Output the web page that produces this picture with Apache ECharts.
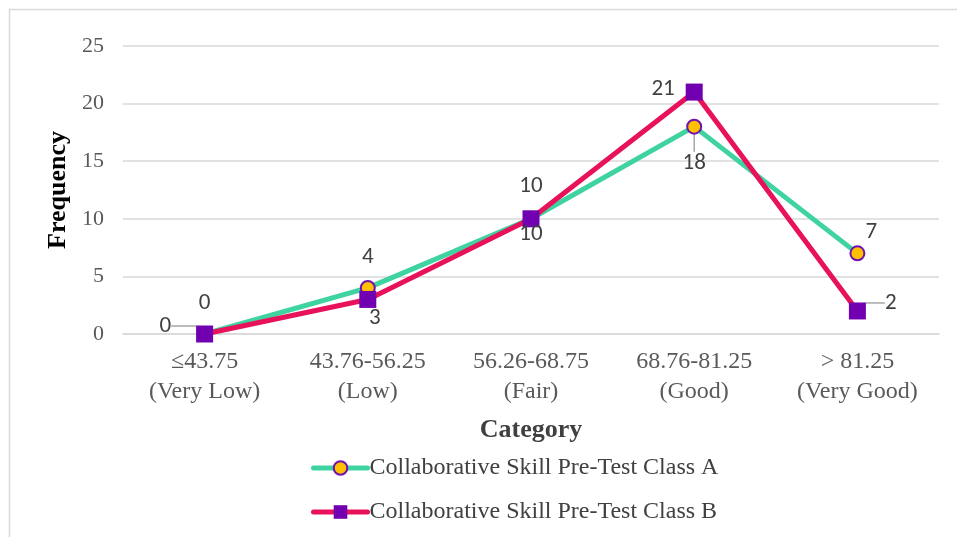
<!DOCTYPE html>
<html>
<head>
<meta charset="utf-8">
<style>
  html, body { margin: 0; padding: 0; background: #fff; }
  #chart { width: 957px; height: 537px; }
</style>
<script src="https://cdn.jsdelivr.net/npm/echarts@6/dist/echarts.min.js"></script>
</head>
<body>
<div id="chart"></div>
<script>
// Score categories and frequencies for the two classes
const categories = [
  '≤43.75\n(Very Low)',
  '43.76-56.25\n(Low)',
  '56.26-68.75\n(Fair)',
  '68.76-81.25\n(Good)',
  '> 81.25\n(Very Good)'
];
const classA = [0, 4, 10, 18, 7];
const classB = [0, 3, 10, 21, 2];
const seriesNames = [
  'Collaborative Skill Pre-Test Class A',
  'Collaborative Skill Pre-Test Class B'
];

// Label placement per point: [position, dx, dy, showLeader]
const labelPlaceA = [
  ['top', 0, -6, false],
  ['top', 0, -6, false],
  ['top', 0, -8, false],
  ['bottom', 0, 12, true],
  ['top', 14, 3, false]
];
const labelPlaceB = [
  ['left', -20, -8, true],
  ['bottom', 7, -6, false],
  ['bottom', 0, -10, false],
  ['left', -6, -3, false],
  ['right', 14, -8, true]
];

const serif = '"Liberation Serif", "Times New Roman", serif';
const sans = 'Carlito, Lato, "Noto Sans", sans-serif';
const leaderStyle = { color: '#a6a6a6', width: 1.5 };

function buildData(values, places) {
  return values.map((v, i) => ({
    value: v,
    label: { position: places[i][0] },
    labelLine: { show: places[i][3], lineStyle: leaderStyle }
  }));
}

const chart = echarts.init(document.getElementById('chart'), null, { renderer: 'canvas' });

const labelStyle = { show: true, fontFamily: sans, fontSize: 23, color: '#404040' };

chart.setOption({
  animation: false,
  backgroundColor: '#fff',
  graphic: [{
    type: 'rect',
    shape: { x: 9.5, y: 9.5, width: 1000, height: 1000 },
    style: { fill: 'none', stroke: '#d9d9d9', lineWidth: 1.5 },
    silent: true
  }],
  grid: { left: 123, right: 18, top: 46, bottom: 203 },
  legend: {
    orient: 'vertical',
    left: 306,
    top: 451,
    itemWidth: 54,
    itemHeight: 17,
    itemGap: 20,
    lineStyle: { width: 5, cap: 'round' },
    textStyle: { fontFamily: serif, fontSize: 24, color: '#404040', padding: [0, 0, 0, -3] },
    data: seriesNames
  },
  xAxis: {
    type: 'category',
    data: categories,
    boundaryGap: true,
    name: 'Category',
    nameLocation: 'middle',
    nameGap: 83,
    nameTextStyle: { fontFamily: serif, fontSize: 26, fontWeight: 'bold', color: '#404040' },
    axisLine: { show: true, lineStyle: { color: '#d9d9d9', width: 1.5 } },
    axisTick: { show: false },
    axisLabel: {
      fontFamily: serif, fontSize: 24, color: '#595959',
      lineHeight: 30, margin: 13, interval: 0
    }
  },
  yAxis: {
    type: 'value',
    min: 0, max: 25, interval: 5,
    name: 'Frequency',
    nameLocation: 'middle',
    nameGap: 47,
    nameRotate: 90,
    nameTextStyle: { fontFamily: serif, fontSize: 26, fontWeight: 'bold', color: '#000' },
    axisLine: { show: false },
    axisTick: { show: false },
    axisLabel: { fontFamily: serif, fontSize: 22, color: '#595959', margin: 19 },
    splitLine: { lineStyle: { color: '#d9d9d9', width: 1.5 } }
  },
  series: [
    {
      name: seriesNames[0],
      type: 'line',
      data: buildData(classA, labelPlaceA),
      lineStyle: { color: '#3fd3a0', width: 5 },
      itemStyle: { color: '#ffc000', borderColor: '#7010b0', borderWidth: 2 },
      symbol: 'circle',
      symbolSize: 14,
      z: 2,
      label: labelStyle,
      labelLine: { show: false, lineStyle: leaderStyle },
      labelLayout: function (p) {
        const s = labelPlaceA[p.dataIndex];
        return { dx: s[1], dy: s[2] };
      }
    },
    {
      name: seriesNames[1],
      type: 'line',
      data: buildData(classB, labelPlaceB),
      lineStyle: { color: '#e8115b', width: 5 },
      itemStyle: { color: '#7000b0', borderColor: '#7000b0', borderWidth: 0 },
      symbol: 'rect',
      symbolSize: 17,
      z: 3,
      label: labelStyle,
      labelLine: { show: false, lineStyle: leaderStyle },
      labelLayout: function (p) {
        const s = labelPlaceB[p.dataIndex];
        return { dx: s[1], dy: s[2] };
      }
    }
  ]
});
</script>
</body>
</html>
